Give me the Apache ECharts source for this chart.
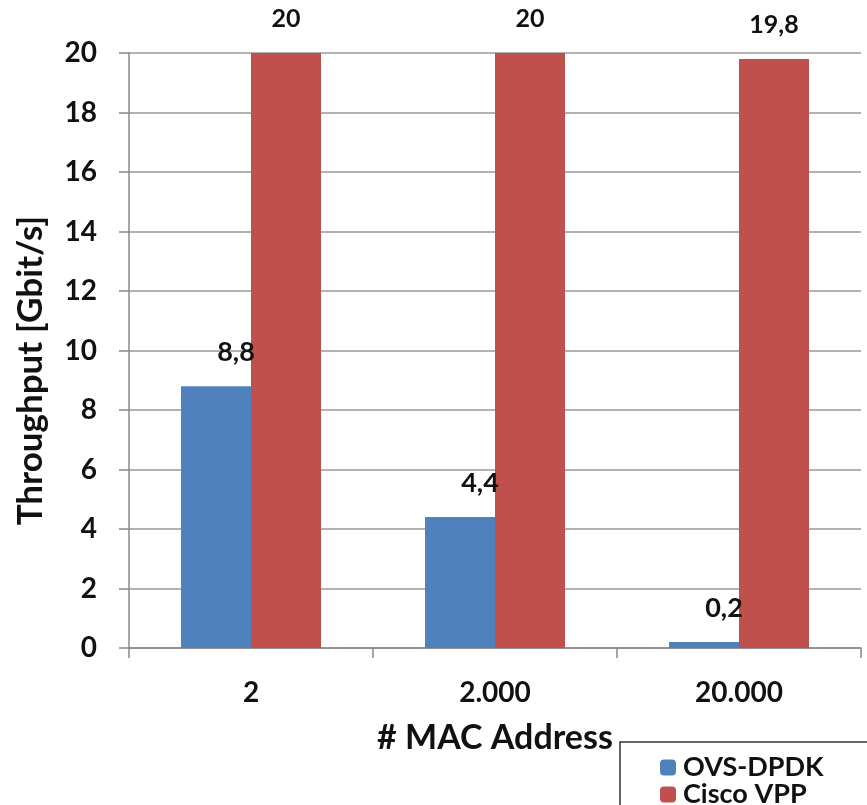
<!DOCTYPE html>
<html>
<head>
<meta charset="utf-8">
<script src="https://cdn.jsdelivr.net/npm/echarts@6/dist/echarts.min.js"></script>
<style>
  html, body { margin: 0; padding: 0; background: #fff; }
  #main { width: 867px; height: 805px; }
</style>
</head>
<body>
<div id="main"></div>
<script>
const categories = ['2', '2.000', '20.000']
const ovsDpdk = [8.8, 4.4, 0.2]
const ciscoVpp = [20, 20, 19.8]

const FONT = 'Lato, "Open Sans", sans-serif'

const chart = echarts.init(document.getElementById('main'))

// comma as decimal separator, like the original
const fmt = p => String(p.value).replace('.', ',')

chart.setOption({
  backgroundColor: '#fff',
  animation: false,
  grid: { left: 129, right: 6, top: 53, bottom: 157 },
  legend: {
    orient: 'vertical',
    left: 620, top: 742,
    height: 120,
    padding: [12, 80, 20, 40],
    itemGap: 0,
    itemWidth: 16, itemHeight: 16,
    borderColor: '#333', borderWidth: 1.5,
    textStyle: { fontFamily: FONT, fontWeight: 'bold', fontSize: 27, color: '#111', padding: [0, 0, 0, 2] },
    data: ['OVS-DPDK', 'Cisco VPP'],
  },
  xAxis: {
    type: 'category',
    data: categories,
    name: '# MAC Address',
    nameLocation: 'middle',
    nameGap: 73,
    nameTextStyle: { fontFamily: FONT, fontWeight: 'bold', fontSize: 34, color: '#111' },
    axisLine: { lineStyle: { color: '#888', width: 1.5 } },
    axisTick: { show: true, length: 10, lineStyle: { color: '#888', width: 1.5 } },
    axisLabel: { fontFamily: FONT, fontWeight: 'bold', fontSize: 28, color: '#111', margin: 31 },
  },
  yAxis: {
    type: 'value',
    min: 0, max: 20, interval: 2,
    name: 'Throughput [Gbit/s]',
    nameLocation: 'middle',
    nameGap: 81,
    nameTextStyle: { fontFamily: FONT, fontWeight: 'bold', fontSize: 35, color: '#111', padding: [0, 40, 0, 0] },
    axisLine: { show: true, lineStyle: { color: '#888', width: 1.5 } },
    axisTick: { show: true, length: 10, lineStyle: { color: '#888', width: 1.5 } },
    axisLabel: { fontFamily: FONT, fontWeight: 'bold', fontSize: 28, color: '#111', margin: 32 },
    splitLine: { lineStyle: { color: '#999', width: 1.5 } },
  },
  series: [
    {
      name: 'OVS-DPDK', type: 'bar',
      data: ovsDpdk,
      barWidth: 70, barGap: '0%',
      itemStyle: { color: '#4F81BD' },
      label: {
        show: true, position: 'top', distance: 20, offset: [20, 0],
        formatter: fmt,
        fontFamily: FONT, fontWeight: 'bold', fontSize: 27, color: '#111',
      },
    },
    {
      name: 'Cisco VPP', type: 'bar',
      data: ciscoVpp,
      barWidth: 70,
      itemStyle: { color: '#C0504D' },
      label: {
        show: true, position: 'top', distance: 22,
        formatter: fmt,
        fontFamily: FONT, fontWeight: 'bold', fontSize: 25, color: '#111',
      },
    },
  ],
})
</script>
</body>
</html>
